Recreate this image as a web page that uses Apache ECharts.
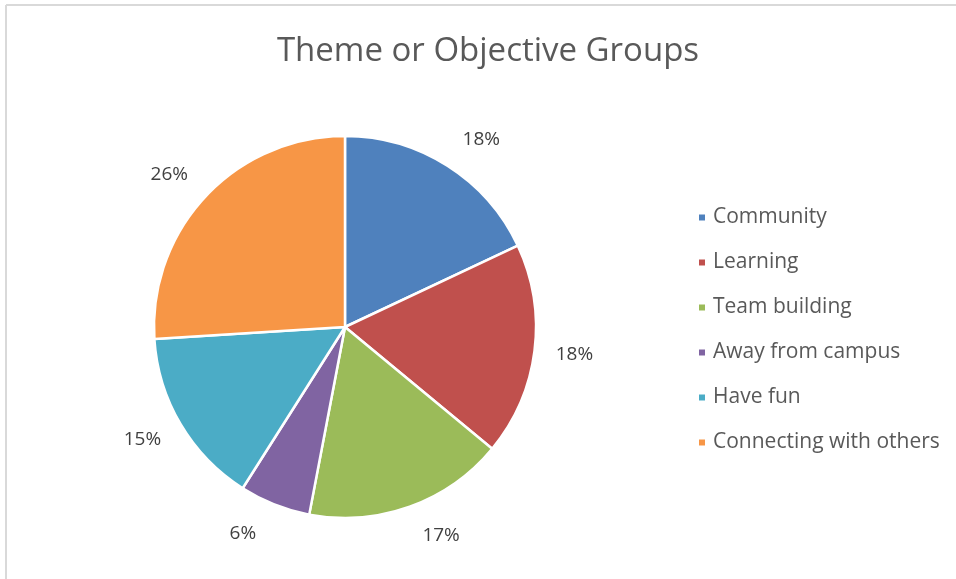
<!DOCTYPE html>
<html>
<head>
<meta charset="utf-8">
<script src="https://cdn.jsdelivr.net/npm/echarts@6/dist/echarts.min.js"></script>
<style>
  html, body { margin: 0; padding: 0; background: #fff; }
  #chart { width: 956px; height: 579px; }
</style>
</head>
<body>
<div id="chart"></div>
<script>
// Share of activities by theme or objective (percent)
const categories = ['Community', 'Learning', 'Team building', 'Away from campus', 'Have fun', 'Connecting with others'];
const shares = [18, 18, 17, 6, 15, 26];
const sliceColors = ['#4f81bd', '#c0504d', '#9bbb59', '#8064a2', '#4bacc6', '#f79646'];
const chartTitle = 'Theme or Objective Groups';

const font = '"Open Sans", "Noto Sans", sans-serif';
const chart = echarts.init(document.getElementById('chart'), null, { renderer: 'canvas' });

chart.setOption({
  animation: false,
  color: sliceColors,
  title: {
    text: chartTitle,
    left: 483,
    textAlign: 'center',
    top: 27,
    textStyle: { fontFamily: font, fontSize: 33, fontWeight: 'normal', color: '#595959', lineHeight: 40 }
  },
  graphic: [
    { type: 'line', shape: { x1: 6, y1: 5, x2: 956, y2: 5 }, style: { stroke: '#d9d9d9', lineWidth: 2 } },
    { type: 'line', shape: { x1: 6, y1: 5, x2: 6, y2: 579 }, style: { stroke: '#d9d9d9', lineWidth: 2 } }
  ],
  legend: {
    orient: 'vertical',
    left: 692,
    top: 202,
    itemGap: 24,
    itemWidth: 8,
    itemHeight: 8,
    icon: 'rect',
    textStyle: { fontFamily: font, fontSize: 21, lineHeight: 20, color: '#595959', padding: [0, 0, 0, 2] },
    data: categories
  },
  series: [{
    type: 'pie',
    center: [345, 327],
    radius: [0, 191],
    startAngle: 90,
    clockwise: true,
    itemStyle: { borderColor: '#ffffff', borderWidth: 2.5 },
    label: {
      show: true,
      position: 'outside',
      formatter: '{c}%',
      fontFamily: font,
      fontSize: 19,
      color: '#404040'
    },
    labelLine: { show: false, length: 15, length2: 0 },
    // place each value label just outside the rim, pushed sideways by about half its width
    labelLayout: function (p) {
      const pts = p.labelLinePoints;
      if (!pts || pts.length < 2) return {};
      const dx = pts[1][0] - pts[0][0];
      const dy = pts[1][1] - pts[0][1];
      const len = Math.hypot(dx, dy) || 1;
      const ux = dx / len, uy = dy / len;
      return {
        x: pts[0][0] + ux * 13 + Math.sign(ux) * 27,
        y: pts[0][1] + uy * 31,
        align: 'center',
        verticalAlign: 'middle'
      };
    },
    emphasis: { disabled: true },
    data: categories.map((name, i) => ({ name, value: shares[i] }))
  }]
});
</script>
</body>
</html>
